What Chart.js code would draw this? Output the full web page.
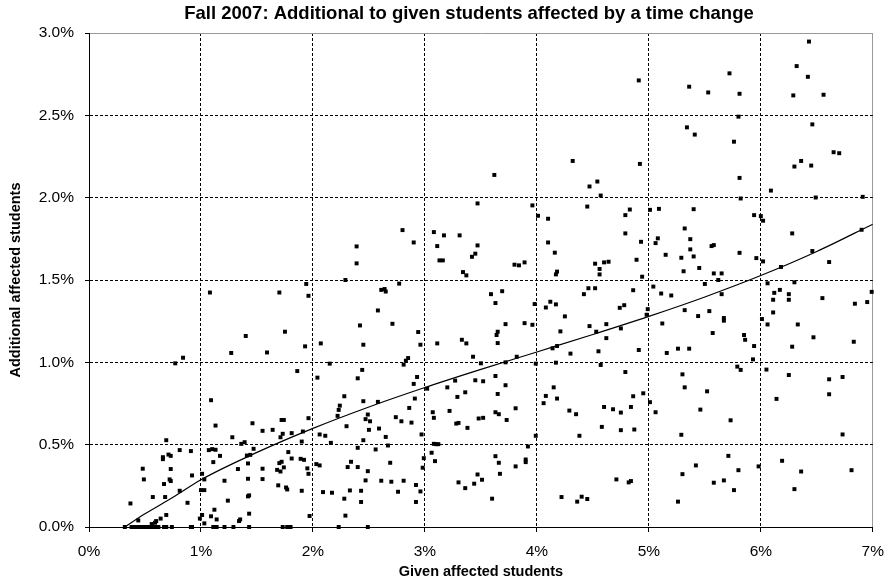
<!DOCTYPE html>
<html>
<head>
<meta charset="utf-8">
<script src="https://cdn.jsdelivr.net/npm/chart.js@4.4.1/dist/chart.umd.min.js"></script>
<style>
  html, body { margin: 0; padding: 0; background: #fff; }
  canvas { display: block; }
</style>
</head>
<body>
<canvas id="c" width="894" height="581"></canvas>
<script>
// ---- Data (percent values) ----
const chartTitle = 'Fall 2007: Additional to given students affected by a time change';
const xAxisTitle = 'Given affected students';
const yAxisTitle = 'Additional affected students';
const xTickLabels = ['0%', '1%', '2%', '3%', '4%', '5%', '6%', '7%'];
const yTickLabels = ['0.0%', '0.5%', '1.0%', '1.5%', '2.0%', '2.5%', '3.0%'];

// [given %, additional %]
const studentPoints = [
  [1.08,1.424],[1.70,1.424],[1.96,1.404],[1.40,1.16],[1.75,1.186],[1.93,1.097],[2.07,1.115],[1.27,1.057],
  [1.59,1.06],[0.84,1.028],[0.77,0.994],[1.86,0.947],[2.15,0.992],[2.04,0.907],[1.09,0.770],[2.28,0.794],
  [2.24,0.737],[2.23,0.711],[2.22,0.675],[2.30,0.612],[1.13,0.616],[1.46,0.630],[1.72,0.650],[1.74,0.650],
  [1.96,0.661],[1.55,0.584],[1.64,0.590],[1.71,0.545],[1.73,0.566],[1.81,0.570],[1.91,0.580],[2.06,0.562],
  [2.11,0.554],[2.16,0.511],[1.28,0.545],[1.36,0.505],[1.39,0.515],[1.47,0.475],[1.41,0.434],[1.44,0.438],
  [1.42,0.386],[0.69,0.527],[0.81,0.467],[0.91,0.461],[0.66,0.424],[0.66,0.412],[0.71,0.440],[0.73,0.432],
  [1.07,0.467],[1.10,0.473],[1.13,0.469],[1.17,0.432],[1.11,0.394],[0.48,0.354],[0.49,0.289],[0.73,0.352],
  [0.72,0.289],[0.73,0.279],[0.92,0.313],[0.67,0.261],[1.01,0.323],[1.03,0.289],[1.21,0.281],[1.33,0.352],
  [1.42,0.293],[1.55,0.354],[1.55,0.291],[1.68,0.347],[1.70,0.388],[1.71,0.337],[1.72,0.396],[1.74,0.362],
  [1.78,0.455],[1.81,0.416],[1.89,0.414],[1.92,0.408],[1.90,0.519],[1.95,0.356],[1.96,0.323],[2.03,0.382],
  [2.06,0.374],[2.31,0.364],[2.34,0.396],[1.69,0.253],[1.76,0.240],[1.77,0.228],[1.90,0.220],[2.09,0.212],
  [2.17,0.208],[2.33,0.222],[2.28,0.172],[2.29,0.069],[1.97,0.067],[0.57,0.182],[0.68,0.182],[0.81,0.220],
  [0.88,0.147],[0.37,0.143],[1.00,0.224],[1.03,0.224],[1.24,0.160],[1.42,0.186],[1.43,0.192],[1.43,0.081],
  [1.35,0.046],[1.34,0.036],[1.12,0.105],[1.09,0.065],[1.14,0.046],[0.99,0.051],[1.01,0.073],[1.03,0.022],
  [0.69,0.073],[0.64,0.051],[0.60,0.036],[0.59,0.026],[0.44,0.040],[0.56,0.018],
  [0.32,0],[0.38,0],[0.41,0],[0.44,0],[0.46,0],[0.48,0],[0.49,0],[0.51,0],[0.53,0],[0.54,0],
  [0.56,0],[0.58,0],[0.60,0],[0.62,0],[0.67,0],[0.69,0],[0.74,0],[0.91,0],[0.92,0],[1.11,0],
  [1.12,0],[1.14,0],[1.21,0],[1.29,0],[1.43,0],[1.73,0],[1.77,0],[1.79,0],[1.80,0],[2.23,0],
  [1.94,1.476],[2.29,1.50],
  [3.62,2.138],[4.32,2.223],[4.47,2.068],[4.54,2.098],[4.57,2.013],[4.45,1.946],[3.47,1.965],[3.96,1.953],
  [4.01,1.890],[4.10,1.872],[2.80,1.803],[2.90,1.728],[2.39,1.704],[2.39,1.601],[3.08,1.791],[3.17,1.771],
  [3.31,1.771],[3.11,1.706],[3.47,1.710],[3.45,1.660],[3.42,1.641],[3.13,1.619],[3.16,1.619],[3.34,1.548],
  [3.37,1.528],[3.80,1.593],[3.84,1.589],[3.89,1.607],[4.10,1.728],[4.16,1.666],[4.17,1.534],[4.18,1.551],
  [4.52,1.599],[4.60,1.607],[4.64,1.611],[4.56,1.534],[4.56,1.567],[2.61,1.44],[2.64,1.445],[2.65,1.43],
  [2.77,1.478],[3.59,1.414],[3.69,1.432],[4.42,1.414],[4.46,1.45],[4.52,1.45],
  [3.63,1.360],[3.98,1.354],[4.08,1.333],[4.12,1.368],[4.17,1.352],[4.25,1.279],[2.58,1.315],[2.42,1.224],
  [2.71,1.234],[2.45,1.107],[2.94,1.184],[2.96,1.107],[3.11,1.115],[3.33,1.137],[3.37,1.115],[3.64,1.166],
  [3.65,1.186],[3.65,1.117],[3.72,1.232],[3.89,1.238],[3.96,1.228],[4.21,1.188],[4.47,1.220],[4.62,1.232],
  [4.53,1.186],[4.62,1.147],[4.14,1.085],[4.18,1.099],[4.30,1.053],[4.55,1.067],[4.57,0.984],[4.17,0.998],
  [3.99,0.992],[3.82,1.034],[3.72,1.0],[3.50,0.994],[3.43,1.034],[2.85,1.026],[2.83,1.010],[2.81,0.986],
  [2.44,0.954],[2.40,0.903],[2.93,0.911],[2.90,0.869],[2.91,0.780],[2.86,0.723],[3.02,0.840],[2.58,0.760],
  [2.45,0.764],[3.20,0.848],[3.27,0.889],[3.45,0.891],[3.52,0.885],[3.63,0.917],[3.65,0.808],[3.72,0.861],
  [3.29,0.790],[3.36,0.818],[3.22,0.705],[3.28,0.628],[3.30,0.632],[3.38,0.602],[3.48,0.659],[3.52,0.663],
  [3.63,0.697],[3.66,0.685],[3.73,0.650],[3.81,0.721],[3.07,0.697],[3.08,0.663],[2.74,0.667],[2.79,0.642],
  [2.88,0.634],[2.49,0.683],[2.47,0.655],[2.51,0.642],[2.50,0.590],[2.59,0.598],[2.65,0.547],[2.67,0.495],
  [2.45,0.527],[2.40,0.481],[2.56,0.471],[2.97,0.562],[3.08,0.505],[3.10,0.503],[3.12,0.503],[3.06,0.451],
  [3.09,0.400],[2.99,0.418],[2.98,0.360],[2.40,0.364],[2.49,0.339],[2.69,0.390],[2.47,0.283],[2.61,0.281],
  [2.70,0.275],[2.81,0.281],[2.92,0.255],[2.76,0.214],[2.96,0.216],[2.43,0.220],[2.43,0.152],[2.92,0.152],
  [2.49,0],[3.92,0.489],[3.99,0.554],[3.63,0.430],[3.66,0.390],[3.67,0.323],[3.81,0.368],[3.90,0.410],
  [3.90,0.394],[3.30,0.271],[3.36,0.236],[3.44,0.263],[3.47,0.319],[3.51,0.287],[3.60,0.172],[4.06,0.752],
  [4.08,0.796],[4.15,0.848],[4.18,0.780],[4.29,0.707],[4.35,0.685],[4.38,0.554],[4.60,0.729],[4.68,0.715],
  [4.58,0.608],[4.22,0.182],[4.36,0.154],[4.40,0.184],[4.45,0.170],
  [4.86,1.438],[5.11,1.418],[5.20,1.406],[5.65,1.414],[6.12,1.422],[6.17,1.44],[6.25,1.414],[6.25,1.380],
  [6.55,1.390],[6.99,1.428],[6.95,1.366],[6.84,1.356],[6.11,1.380],[6.11,1.303],[6.01,1.263],[6.06,1.230],
  [6.33,1.230],[4.74,1.331],[4.78,1.347],[4.99,1.323],[4.98,1.289],[5.32,1.317],[5.44,1.281],[5.54,1.311],
  [5.67,1.269],[5.67,1.253],[4.75,1.206],[5.12,1.236],[5.57,1.178],[5.85,1.166],[5.86,1.137],[5.94,1.099],
  [5.93,1.018],[6.47,1.152],[6.28,1.095],[6.83,1.125],[4.91,1.075],[5.16,1.057],[5.26,1.083],[5.36,1.083],
  [4.79,0.941],[5.30,0.927],[5.32,0.848],[5.79,0.974],[5.82,0.954],[6.05,0.956],[6.25,0.923],[6.61,0.897],
  [6.73,0.911],[6.61,0.806],[6.14,0.778],[5.52,0.824],[4.95,0.812],[4.86,0.794],[4.84,0.729],[4.75,0.695],
  [5.01,0.758],[5.06,0.697],[5.46,0.713],[5.73,0.648],[4.75,0.588],[4.87,0.592],[5.29,0.560],[6.73,0.562],
  [5.71,0.432],[5.42,0.374],[5.30,0.321],[5.80,0.345],[5.98,0.368],[6.19,0.402],[6.36,0.337],[6.81,0.345],
  [4.71,0.289],[4.82,0.271],[4.84,0.279],[5.58,0.269],[5.67,0.283],[5.76,0.224],[6.30,0.230],[5.26,0.154],
  [6.43,2.948],[6.32,2.799],[6.42,2.734],[6.29,2.621],[6.56,2.625],[5.72,2.755],[5.36,2.674],[5.53,2.639],
  [5.81,2.631],[4.91,2.712],[5.80,2.492],[5.34,2.427],[5.41,2.383],[5.76,2.340],[6.46,2.445],[6.65,2.276],
  [6.70,2.270],[6.30,2.189],[6.36,2.223],[6.45,2.195],[4.92,2.205],[5.81,2.120],[6.09,2.043],[5.82,1.995],
  [6.49,2.001],[6.91,2.005],[4.79,1.894],[4.83,1.928],[5.01,1.926],[5.09,1.932],[5.40,1.930],[5.94,1.894],
  [6.00,1.888],[6.02,1.860],[4.79,1.783],[4.93,1.732],[5.06,1.724],[5.08,1.753],[5.32,1.813],[5.37,1.748],
  [5.37,1.686],[5.40,1.643],[5.15,1.653],[5.29,1.635],[5.56,1.706],[5.58,1.712],[5.81,1.665],[5.96,1.633],
  [6.02,1.613],[6.28,1.783],[6.46,1.676],[6.61,1.609],[6.18,1.579],[6.90,1.805],[4.89,1.623],[4.94,1.520],
  [5.04,1.460],[5.31,1.553],[5.45,1.573],[5.58,1.540],[5.65,1.540],[5.62,1.50],[5.50,1.476],[6.06,1.480],
  [6.30,1.486]
];

// Trend line
const trendX = [0.32, 0.5, 0.75, 1.0, 1.5, 2.0, 2.5, 3.0, 3.5, 4.0, 4.5, 5.0, 5.5, 6.0, 6.5, 7.0];
const trendY = [0.0, 0.08, 0.18, 0.287, 0.453, 0.599, 0.729, 0.847, 0.957, 1.063, 1.169, 1.279, 1.397, 1.527, 1.673, 1.839];

// ---- Chart ----
const FONT = "'Liberation Sans', Arial, sans-serif";
const scatterData = studentPoints.map(p => ({x: p[0], y: p[1]}));
const trendData = trendX.map((x, i) => ({x: x, y: trendY[i]}));

// Title drawn as real text, centred where the reference centres it
const titlePlugin = {
  id: 'refTitle',
  afterDraw(chart) {
    const ctx = chart.ctx;
    ctx.save();
    ctx.font = "bold 18.5px " + FONT;
    ctx.fillStyle = '#000';
    ctx.textAlign = 'center';
    ctx.textBaseline = 'middle';
    ctx.fillText(chartTitle, 469, 14);
    ctx.restore();
  }
};

new Chart(document.getElementById('c'), {
  type: 'scatter',
  data: {
    datasets: [
      {
        label: 'Students',
        data: scatterData,
        pointStyle: 'rect',
        pointRadius: 2.8,
        pointHoverRadius: 2.8,
        pointBorderWidth: 0,
        backgroundColor: '#000',
        borderColor: '#000',
        clip: false,
        order: 2
      },
      {
        label: 'Trend',
        type: 'line',
        data: trendData,
        showLine: true,
        borderColor: '#000',
        borderWidth: 1.2,
        pointRadius: 0,
        cubicInterpolationMode: 'monotone',
        fill: false,
        order: 1
      }
    ]
  },
  options: {
    responsive: false,
    animation: false,
    events: [],
    layout: { padding: { left: 0, right: 13, top: 33, bottom: 0 } },
    plugins: {
      legend: { display: false },
      tooltip: { enabled: false },
      title: { display: false }
    },
    scales: {
      x: {
        type: 'linear',
        min: 0, max: 7,
        ticks: {
          stepSize: 1,
          color: '#000',
          font: { family: FONT, size: 15.5 },
          padding: 10,
          maxRotation: 0,
          callback: (v, i) => xTickLabels[i]
        },
        grid: {
          color: c => (c.tick && c.tick.value === 7) ? '#9a9a9a' : '#000',
          lineWidth: 1,
          tickLength: 5,
          tickColor: '#000'
        },
        border: {
          display: true, color: '#000', width: 1,
          dash: c => (c.tick && c.tick.value !== 7) ? [3, 2] : []
        },
        title: {
          display: true,
          text: xAxisTitle,
          color: '#000',
          font: { family: FONT, size: 14.5, weight: 'bold' },
          padding: { top: 0, bottom: 0 }
        },
        afterFit: s => { s.height = 54; }
      },
      y: {
        type: 'linear',
        min: 0, max: 3,
        ticks: {
          stepSize: 0.5,
          color: '#000',
          font: { family: FONT, size: 15.5 },
          padding: 11,
          callback: (v, i) => yTickLabels[i]
        },
        grid: {
          color: c => (c.tick && c.tick.value === 3) ? '#9a9a9a' : '#000',
          lineWidth: 1,
          tickLength: 4,
          tickColor: '#000'
        },
        border: {
          display: true, color: '#000', width: 1,
          dash: c => (c.tick && c.tick.value !== 3) ? [3, 2] : []
        },
        title: {
          display: true,
          text: yAxisTitle,
          color: '#000',
          font: { family: FONT, size: 14.5, weight: 'bold' },
          padding: { top: 7, bottom: 0 }
        },
        afterFit: s => { s.width = 89; }
      }
    }
  },
  plugins: [titlePlugin]
});
</script>
</body>
</html>
